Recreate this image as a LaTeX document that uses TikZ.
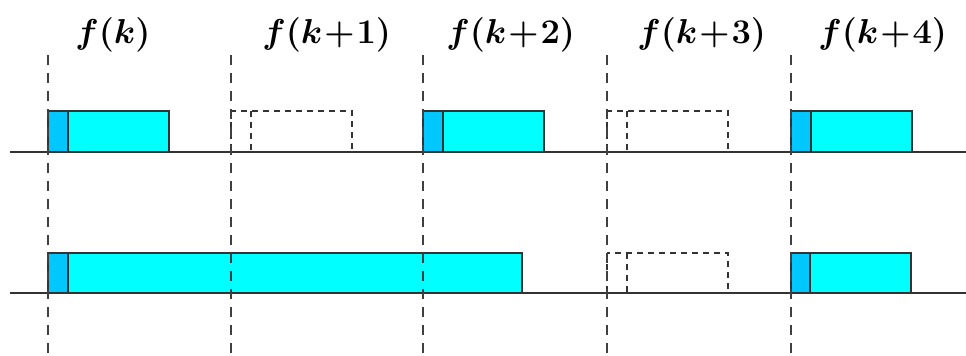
\documentclass[tikz,border=0pt]{standalone}
\usepackage{amsmath,bm}
\usepackage{xcolor}
\definecolor{slotcyan}{RGB}{0,255,255}
\definecolor{slotblue}{RGB}{0,200,255}

\begin{document}
\begin{tikzpicture}[
    x=0.5pt, y=-0.5pt,
    axis/.style={line width=1pt, black!80},
    tick/.style={line width=1pt, black!75, dash pattern=on 5pt off 4pt},
    busy/.style={draw=black!80, line width=0.8pt, fill=slotcyan},
    head/.style={draw=black!80, line width=0.8pt, fill=slotblue},
    idle/.style={draw=black!80, line width=0.8pt, dash pattern=on 3pt off 2.5pt},
    lbl/.style={anchor=west, inner sep=0pt, font=\fontsize{19}{22}\selectfont}
]
\useasboundingbox (0,0) rectangle (966,356);

% Top row
\foreach \x in {48,423,791} {
    \draw[busy] (\x,111) rectangle ++(121,41);
    \draw[head] (\x,111) rectangle ++(20,41);
}
\foreach \x in {231,607} {
    \draw[idle] (\x,111) rectangle ++(121,41);
    \draw[idle] (\x+20,111) -- ++(0,41);
}

% Bottom row
\draw[busy] (48,253) rectangle (522,293);
\draw[head] (48,253) rectangle ++(20,40);
\draw[idle] (607,253) rectangle ++(121,40);
\draw[idle] (627,253) -- ++(0,40);
\draw[busy] (791,253) rectangle ++(120,40);
\draw[head] (791,253) rectangle ++(19,40);

% Time axes
\draw[axis] (10,152) -- (966,152);
\draw[axis] (10,293) -- (966,293);

% Frame boundaries and labels
\foreach \x/\dx/\t [count=\i] in {48/27/{f(k)}, 231/31/{f(k\!+\!1)}, 423/23/{f(k\!+\!2)}, 607/30/{f(k\!+\!3)}, 791/27/{f(k\!+\!4)}} {
    \draw[tick] (\x,55) -- (\x,356);
    \node[lbl] (f\i) at (\x+\dx,35) {$\bm{\t}$};
}

\end{tikzpicture}
\end{document}
